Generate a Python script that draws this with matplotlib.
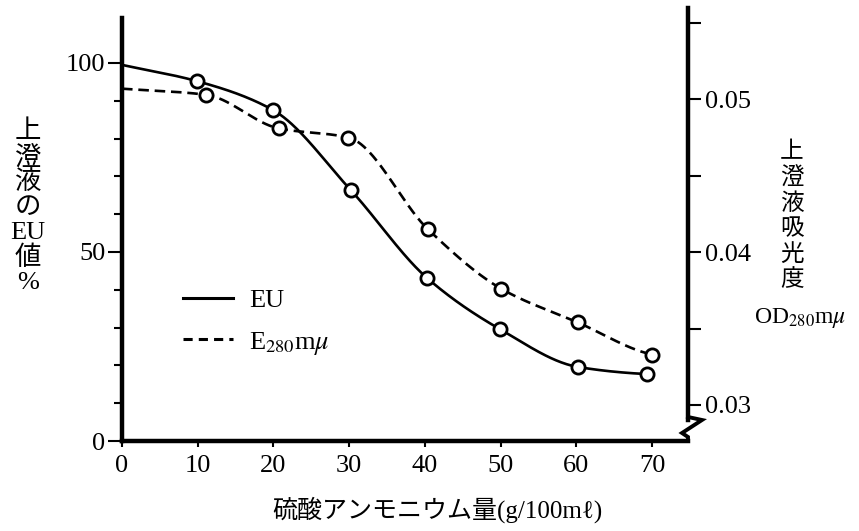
import numpy as np
import matplotlib.pyplot as plt
from matplotlib.lines import Line2D

plt.rcParams['font.family'] = ['Liberation Serif', 'Noto Sans CJK JP', 'DejaVu Sans']
plt.rcParams['mathtext.fontset'] = 'stix'

# 硫酸アンモニウム量 (g/100ml) と上澄液の EU 値 (%)
eu_x = [0, 9.9, 19.9, 30.2, 40.3, 49.9, 60.2, 69.3]
eu_y = [99.5, 95.2, 87.6, 66.4, 43.1, 29.6, 19.6, 17.7]

# 上澄液吸光度 OD 280 mμ
od_x = [0, 11.1, 20.7, 29.9, 40.4, 50.1, 60.2, 70.0]
od_y = [0.0507, 0.0503, 0.0481, 0.0475, 0.0415, 0.0376, 0.0354, 0.0333]

x_ticks = [0, 10, 20, 30, 40, 50, 60, 70]
eu_ticks = [0, 50, 100]
eu_minor = [10, 20, 30, 40, 60, 70, 80, 90]
od_ticks = [0.03, 0.04, 0.05]
od_minor = [0.035, 0.045, 0.055]

left_label = ['上', '澄', '液', 'の', 'EU', '値', '%']
right_label = ['上', '澄', '液', '吸', '光', '度']


def pchip(x, y, n=400):
    # monotone cubic through the points, just for a smooth pen line
    x = np.asarray(x, float)
    y = np.asarray(y, float)
    h = np.diff(x)
    d = np.diff(y) / h
    m = np.zeros_like(y)
    for k in range(1, len(x) - 1):
        if d[k - 1] * d[k] > 0:
            w1 = 2 * h[k] + h[k - 1]
            w2 = h[k] + 2 * h[k - 1]
            m[k] = (w1 + w2) / (w1 / d[k - 1] + w2 / d[k])
    m[0] = d[0]
    m[-1] = d[-1] * 0.5
    xs = np.linspace(x[0], x[-1], n)
    i = np.clip(np.searchsorted(x, xs) - 1, 0, len(h) - 1)
    t = (xs - x[i]) / h[i]
    h00 = 2 * t**3 - 3 * t**2 + 1
    h10 = t**3 - 2 * t**2 + t
    h01 = -2 * t**3 + 3 * t**2
    h11 = t**3 - t**2
    ys = h00 * y[i] + h10 * h[i] * m[i] + h01 * y[i + 1] + h11 * h[i] * m[i + 1]
    return xs, ys


W, H = 859, 531
fig = plt.figure(figsize=(W / 100, H / 100), dpi=100)
x0, x1, ytop, ybot = 122, 688, 8, 441
ax = fig.add_axes([x0 / W, 1 - ybot / H, (x1 - x0) / W, (ybot - ytop) / H])
ax2 = ax.twinx()

ax.set_xlim(0, 74.75)
ax.set_ylim(0, 114.55)
ax2.set_ylim(0.02764, 0.05598)

dash = (0, (4, 2.2))
xs, ys = pchip(eu_x, eu_y)
ax.plot(xs, ys, color='k', lw=1.9)
ax.plot(eu_x[1:], eu_y[1:], 'o', ms=9.5, mfc='white', mec='k', mew=2, zorder=3)
xs, ys = pchip(od_x, od_y)
ax2.plot(xs, ys, color='k', lw=1.9, ls=dash)
ax2.plot(od_x[1:], od_y[1:], 'o', ms=9.5, mfc='white', mec='k', mew=2, zorder=3)

# axes
for s in ['top', 'right']:
    ax.spines[s].set_visible(False)
for s in ['top', 'left', 'bottom']:
    ax2.spines[s].set_visible(False)
ax.spines['left'].set_linewidth(3.2)
ax.spines['bottom'].set_linewidth(3.2)
ax2.spines['right'].set_linewidth(3.2)
ax.spines['left'].set_bounds(0, 112)
ax2.spines['right'].set_bounds(0.02902, 0.05598)

ax.set_xticks(x_ticks)
ax.set_xticklabels([str(v) for v in x_ticks])
ax.set_yticks(eu_ticks)
ax.set_yticklabels(['0', '50', '100'])
ax.set_yticks(eu_minor, minor=True)
ax2.set_yticks(od_ticks)
ax2.set_yticklabels(['0.03', '0.04', '0.05'])
ax2.set_yticks(od_minor, minor=True)

ax.tick_params(axis='x', length=4, width=1.5, pad=6, labelsize=19)
ax.tick_params(axis='y', which='major', length=10, width=1.5, pad=2, labelsize=19)
ax.tick_params(axis='y', which='minor', length=6, width=1.5)
ax2.tick_params(axis='y', which='both', length=9, width=1.5, pad=3, labelsize=19)

# break mark on the right axis
bx = [(p - x0) / (x1 - x0) for p in [688, 702, 682, 688, 688]]
by = [(ybot - p) / (ybot - ytop) for p in [417, 420, 433, 437, 441]]
ax2.plot(bx, by, color='k', lw=2.8, transform=ax2.transAxes, clip_on=False,
         solid_joinstyle='miter')

# legend
handles = [Line2D([], [], color='k', lw=2.2),
           Line2D([], [], color='k', lw=2.2, ls=(0, (3, 2)))]
ax.legend(handles, ['EU', 'E$_{280}$m$\\mu$'], loc='upper left',
          bbox_to_anchor=(183 / W, 1 - 289 / H), bbox_transform=fig.transFigure,
          frameon=False, fontsize=19, handlelength=1.9, handletextpad=0.6,
          labelspacing=0.65, borderpad=0, borderaxespad=0)

# axis titles
for i, ch in enumerate(left_label):
    fig.text(28 / W, 1 - (132 + i * 25.2) / H, ch, ha='center', va='center', fontsize=19)
for i, ch in enumerate(right_label):
    fig.text(792 / W, 1 - (153 + i * 25.4) / H, ch, ha='center', va='center', fontsize=17)
fig.text(800 / W, 1 - 318 / H, 'OD$_{280}$m$\\mu$', ha='center', va='center', fontsize=17)
fig.text(437 / W, 1 - 510 / H, '硫酸アンモニウム量(g/100mℓ)', ha='center', va='center',
         fontsize=18)

fig.savefig('out.png', dpi=100)
